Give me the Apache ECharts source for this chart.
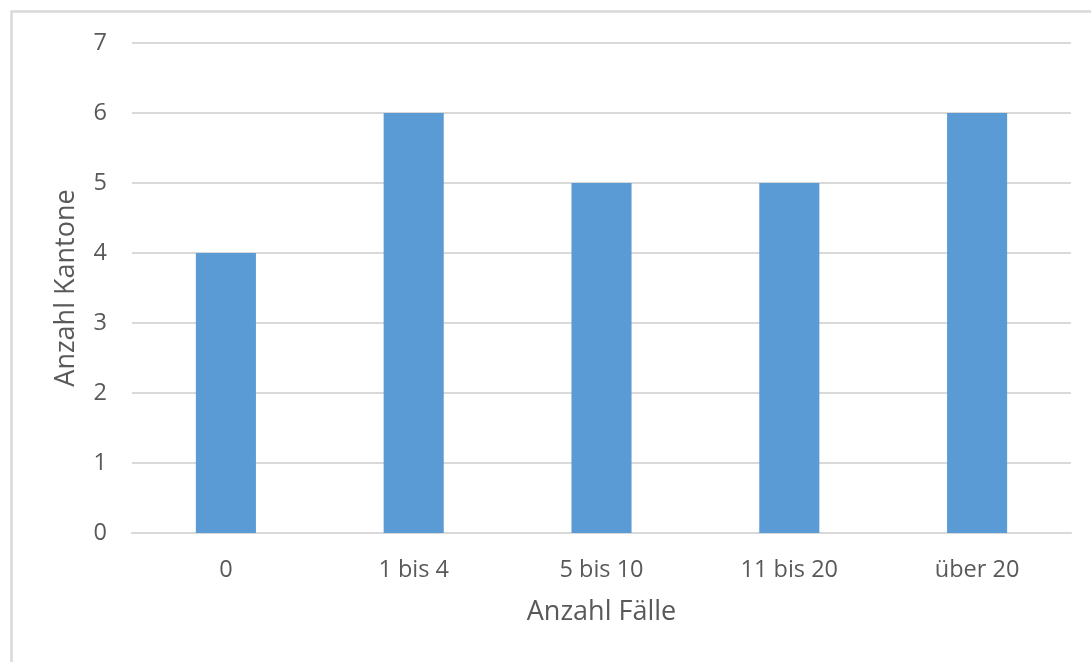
<!DOCTYPE html>
<html>
<head>
<meta charset="utf-8">
<script src="https://cdn.jsdelivr.net/npm/echarts@6/dist/echarts.min.js"></script>
<style>
  html, body { margin: 0; padding: 0; background: #fff; }
  #chart { width: 1091px; height: 662px; }
</style>
</head>
<body>
<div id="chart"></div>
<script>
// Number of cantons by number of cases
const categories = ['0', '1 bis 4', '5 bis 10', '11 bis 20', 'über 20'];
const kantone = [4, 6, 5, 5, 6];
const yTicks = [0, 1, 2, 3, 4, 5, 6, 7];

const textColor = '#595959';
const fontFamily = '"Open Sans", "Liberation Sans", sans-serif';

const chart = echarts.init(document.getElementById('chart'), null, { renderer: 'canvas' });
chart.setOption({
  animation: false,
  backgroundColor: '#fff',
  graphic: [{
    type: 'rect',
    left: 9, top: 9,
    shape: { width: 1200, height: 800 },
    style: { fill: 'none', stroke: '#D9D9D9', lineWidth: 2.5 },
    silent: true
  }],
  grid: { left: 132, right: 20, top: 43, bottom: 129, containLabel: false },
  xAxis: {
    type: 'category',
    data: categories,
    name: 'Anzahl Fälle',
    nameLocation: 'middle',
    nameGap: 66,
    nameTextStyle: { color: textColor, fontSize: 27, fontFamily },
    axisLine: { show: true, lineStyle: { color: '#D9D9D9', width: 2 } },
    axisTick: { show: false },
    axisLabel: { color: textColor, fontSize: 23.5, fontFamily, margin: 25 }
  },
  yAxis: {
    type: 'value',
    min: yTicks[0],
    max: yTicks[yTicks.length - 1],
    interval: 1,
    name: 'Anzahl Kantone',
    nameLocation: 'middle',
    nameGap: 52,
    nameTextStyle: { color: textColor, fontSize: 27, fontFamily },
    axisLine: { show: false },
    axisTick: { show: false },
    axisLabel: { color: textColor, fontSize: 23.5, fontFamily, margin: 25 },
    splitLine: { lineStyle: { color: '#D9D9D9', width: 2 } }
  },
  series: [{
    type: 'bar',
    data: kantone,
    barWidth: '32%',
    itemStyle: { color: '#5B9BD5' }
  }]
});
</script>
</body>
</html>
